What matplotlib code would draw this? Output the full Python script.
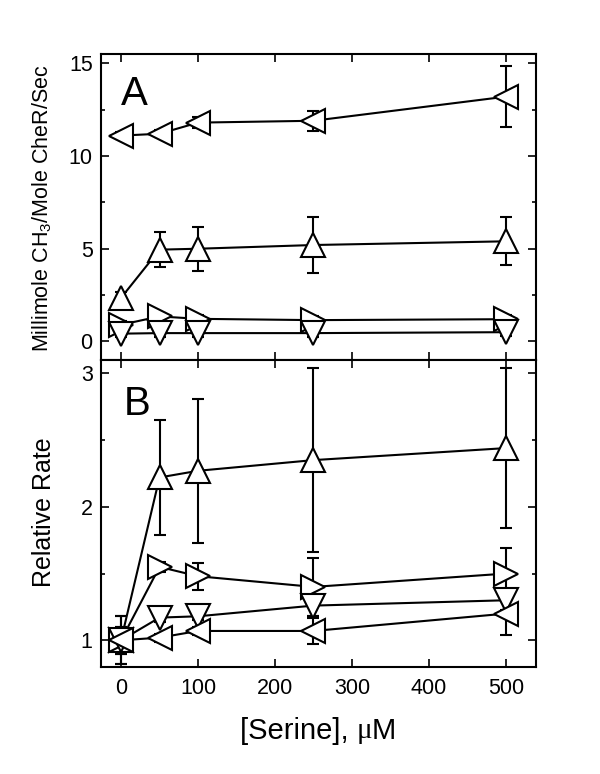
import matplotlib
matplotlib.use("Agg")
import matplotlib.pyplot as plt
from matplotlib.ticker import MultipleLocator

plt.rcParams['font.family'] = ['Liberation Sans', 'DejaVu Sans']
plt.rcParams['mathtext.default'] = 'regular'

# ---- data ----
serine = [0, 50, 100, 250, 500]

# Panel A: Millimole CH3 / Mole CheR / Sec
a_left = [11.1, 11.2, 11.8, 11.9, 13.2]
a_left_err = [0.2, 0.2, 0.3, 0.55, 1.65]
a_up = [2.35, 4.95, 5.0, 5.2, 5.4]
a_up_err = [0.3, 0.95, 1.18, 1.52, 1.3]
a_right = [0.9, 1.35, 1.22, 1.15, 1.2]
a_right_err = [0.2, 0.2, 0.2, 0.2, 0.2]
a_down = [0.42, 0.45, 0.45, 0.45, 0.5]
a_down_err = [0.2, 0.2, 0.2, 0.2, 0.2]

# Panel B: Relative rate
b_up = [1.0, 2.22, 2.27, 2.35, 2.44]
b_up_err = [0.18, 0.43, 0.54, 0.69, 0.6]
b_right = [1.0, 1.55, 1.48, 1.40, 1.50]
b_right_err = [0.1, 0.04, 0.1, 0.22, 0.19]
b_down = [1.0, 1.17, 1.18, 1.26, 1.30]
b_down_err = [0.1, 0.03, 0.03, 0.08, 0.07]
b_left = [1.0, 1.02, 1.07, 1.07, 1.20]
b_left_err = [0.18, 0.03, 0.03, 0.1, 0.16]

x_ticks = [0, 100, 200, 300, 400, 500]
a_yticks = [0, 5, 10, 15]
b_yticks = [1, 2, 3]

W, H = 600, 774
fig = plt.figure(figsize=(W / 100, H / 100), dpi=100)
axA = fig.add_axes([101 / W, 1 - 360 / H, 435 / W, 306 / H])
axB = fig.add_axes([101 / W, 1 - 667 / H, 435 / W, 307 / H])

LW = 1.5
MS = 17


def series(ax, y, e, m):
    ax.errorbar(serine, y, yerr=e, fmt='none', ecolor='black',
                elinewidth=LW, capsize=4.5, capthick=LW, zorder=2)
    ax.plot(serine, y, color='black', lw=LW, marker=m, ms=MS,
            mfc='white', mec='black', mew=LW, zorder=3)


series(axA, a_left, a_left_err, '<')
series(axA, a_up, a_up_err, '^')
series(axA, a_right, a_right_err, '>')
series(axA, a_down, a_down_err, 'v')

series(axB, b_up, b_up_err, '^')
series(axB, b_right, b_right_err, '>')
series(axB, b_down, b_down_err, 'v')
series(axB, b_left, b_left_err, '<')

for ax in (axA, axB):
    ax.set_xlim(-26, 539)
    ax.set_xticks(x_ticks)
    for s in ax.spines.values():
        s.set_linewidth(1.5)
    ax.tick_params(which='both', direction='in', top=True, right=True,
                   width=1.2, labelsize=15.5)
    ax.tick_params(which='major', length=5.5)
    ax.tick_params(which='minor', length=3)
    ax.tick_params(axis='y', pad=6)
    ax.tick_params(axis='x', pad=8)

axA.set_ylim(-1, 15.5)
axA.set_yticks(a_yticks)
axA.yaxis.set_minor_locator(MultipleLocator(2.5))
axA.tick_params(axis='x', labelbottom=False)

axB.set_ylim(0.8, 3.1)
axB.set_yticks(b_yticks)
axB.yaxis.set_minor_locator(MultipleLocator(0.5))
axB.set_xticklabels([str(t) for t in x_ticks])

axA.text(0.046, 0.93, 'A', transform=axA.transAxes, fontsize=29,
         ha='left', va='top')
axB.text(0.053, 0.918, 'B', transform=axB.transAxes, fontsize=29,
         ha='left', va='top')

fig.text(42 / W, 1 - 208 / H, 'Millimole CH$_3$/Mole CheR/Sec',
         rotation=90, ha='center', va='center', fontsize=15.5)
fig.text(44 / W, 1 - 512 / H, 'Relative Rate',
         rotation=90, ha='center', va='center', fontsize=18)

# x label composed of sans text with a serif mu
fig.canvas.draw()
r = fig.canvas.get_renderer()
fs = 21
ycen = 1 - 728 / H
parts = [('[Serine], ', 'Liberation Sans'), ('\u03bc', 'Liberation Serif'),
         ('M', 'Liberation Sans')]
texts = [fig.text(0, ycen, s, family=[f], fontsize=fs, va='center_baseline')
         for s, f in parts]
widths = [t.get_window_extent(r).width for t in texts]
total = sum(widths)
xpos = 318 - total / 2
for t, w in zip(texts, widths):
    t.set_x(xpos / W)
    xpos += w

fig.savefig('out.png', dpi=100)
